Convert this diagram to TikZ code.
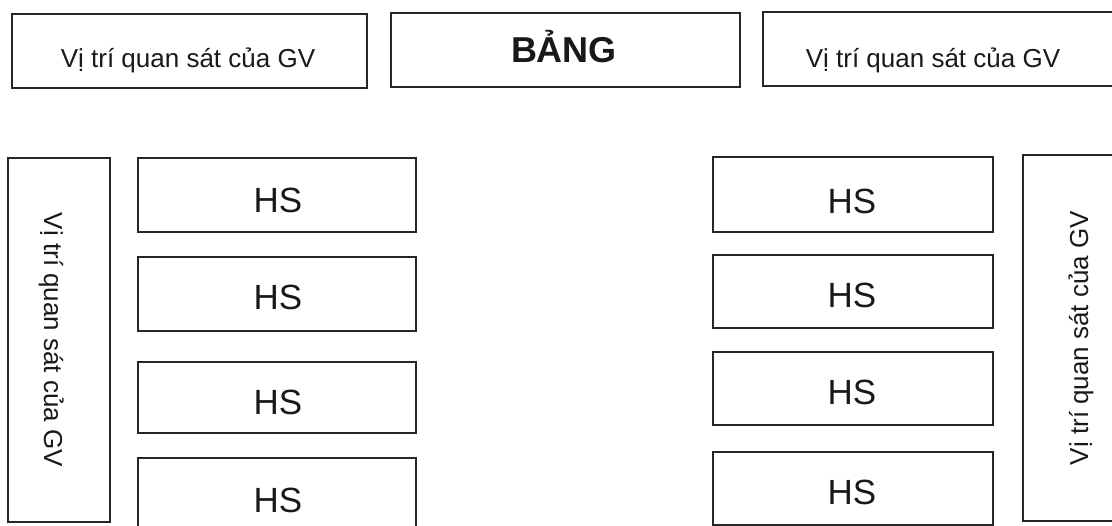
\documentclass[tikz,border=0pt]{standalone}
\usepackage{fontspec}
\setmainfont{Liberation Sans}
\begin{document}
\begin{tikzpicture}[x=1pt,y=-1pt,
  box/.style={draw=black!85, line width=1.6pt, fill=white, inner sep=0pt},
  lbl/.style={font=\fontsize{26}{30}\selectfont, anchor=base, inner sep=0pt, text=black!90},
  big/.style={font=\fontsize{36}{40}\selectfont\bfseries, anchor=base, inner sep=0pt, text=black!90},
  hs/.style={font=\fontsize{35}{40}\selectfont, anchor=base, inner sep=0pt, text=black!90}]
\useasboundingbox (0,0) rectangle (1112,526);
\clip (0,0) rectangle (1112,526);
% top row
\node[box, minimum width=355pt, minimum height=74pt] (tl) at (189.5,51) {};
\node[box, minimum width=349pt, minimum height=74pt] (board) at (565.5,50) {};
\node[box, minimum width=362pt, minimum height=74pt] (tr) at (944,49) {};
\node[lbl] (tlt) at (188,68) {Vị trí quan sát của GV};
\node[big] (boardt) at (564,63) {BẢNG};
\node[lbl] (trt) at (933,68) {Vị trí quan sát của GV};
% vertical boxes
\node[box, minimum width=102pt, minimum height=364pt] (lv) at (59,340) {};
\node[box, minimum width=127pt, minimum height=366pt] (rv) at (1086.5,338) {};
\node[lbl, rotate=-90] (lvt) at (44,340) {Vị trí quan sát của GV};
\node[lbl, rotate=90] (rvt) at (1088,338) {Vị trí quan sát của GV};
% left HS
\node[box, minimum width=278pt, minimum height=74pt] (l1) at (277,195) {};
\node[box, minimum width=278pt, minimum height=74pt] (l2) at (277,294) {};
\node[box, minimum width=278pt, minimum height=71pt] (l3) at (277,397.5) {};
\node[box, minimum width=278pt, minimum height=74pt] (l4) at (277,495) {};
\node[hs] (l1t) at (278,213) {HS};
\node[hs] (l2t) at (278,310) {HS};
\node[hs] (l3t) at (278,415) {HS};
\node[hs] (l4t) at (278,513) {HS};
% right HS
\node[box, minimum width=280pt, minimum height=75pt] (r1) at (853,194.5) {};
\node[box, minimum width=280pt, minimum height=73pt] (r2) at (853,291.5) {};
\node[box, minimum width=280pt, minimum height=73pt] (r3) at (853,388.5) {};
\node[box, minimum width=280pt, minimum height=73pt] (r4) at (853,488.5) {};
\node[hs] (r1t) at (852,214) {HS};
\node[hs] (r2t) at (852,308) {HS};
\node[hs] (r3t) at (852,405) {HS};
\node[hs] (r4t) at (852,505) {HS};
\end{tikzpicture}
\end{document}
